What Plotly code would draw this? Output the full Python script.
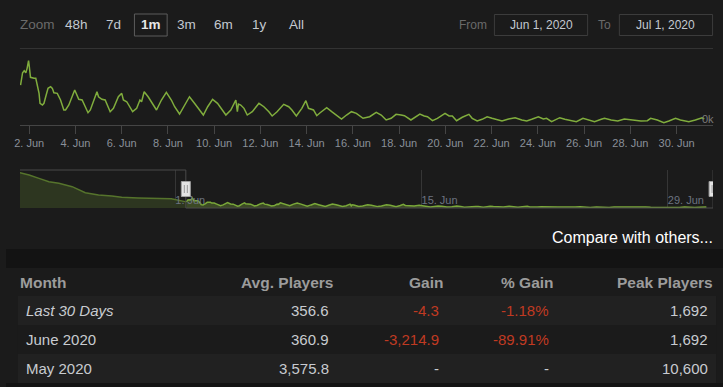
import pandas as pd
import plotly.graph_objects as go

W, H = 723, 387

# ---------------- data ----------------
# main series: hours since 2020-06-01 00:00 and player counts
main_hours = [15.1, 17.2, 18.9, 20.6, 21.9, 23.4, 24.0, 25.4, 29.1, 30.9,
              34.3, 35.3, 37.8, 39.4, 41.2, 43.6, 46.3, 48.1, 49.7, 53.2,
              56.6, 60.0, 61.8, 65.2, 71.3, 75.5, 79.0, 85.1, 87.5, 90.9,
              94.4, 96.0, 99.5, 102.9, 108.1, 111.5, 116.6, 120.1, 121.8, 125.3,
              131.4, 135.6, 139.0, 140.7, 143.4, 147.5, 151.0, 156.2, 161.3, 166.4,
              171.6, 175.0, 180.1, 185.3, 190.4, 195.6, 200.7, 204.8, 209.3, 214.4,
              219.5, 224.7, 228.2, 233.3, 238.5, 240.1, 241.2, 243.6, 247.0, 250.4,
              255.6, 262.5, 267.6, 272.8, 276.2, 281.3, 288.2, 293.4, 296.7, 301.3,
              307.0, 311.2, 313.9, 319.1, 322.5, 326.0, 332.8, 338.0, 343.1, 348.2,
              353.4, 358.5, 363.6, 370.5, 377.4, 384.2, 389.4, 394.5, 399.7, 404.8,
              410.0, 413.5, 420.2, 425.4, 429.5, 434.0, 437.4, 442.6, 447.7, 455.6,
              459.8, 463.2, 467.6, 473.5, 480.4, 483.8, 489.0, 494.1, 499.3, 504.4,
              509.6, 514.7, 521.6, 528.4, 535.3, 540.4, 545.6, 552.5, 557.6, 561.0,
              566.2, 574.7, 579.9, 586.8, 591.9, 598.8, 605.6, 610.8, 617.7, 621.1,
              628.0, 634.9, 641.7, 648.6, 658.9, 665.6, 669.0, 675.9, 682.7, 687.9,
              694.8, 699.9, 708.6, 715.4, 722.3, 724.6]
players = [1052, 1375, 1428, 1375, 1491, 1692, 1578, 1255, 1228, 1228,
           834, 571, 526, 571, 744, 965, 1007, 965, 849, 834,
           658, 395, 395, 526, 921, 676, 658, 323, 395, 658,
           876, 744, 676, 658, 350, 439, 744, 834, 658, 613,
           350, 439, 658, 613, 876, 744, 613, 395, 658, 860,
           658, 481, 289, 526, 744, 571, 395, 263, 481, 676,
           571, 395, 263, 395, 658, 350, 552, 526, 439, 263,
           350, 571, 481, 350, 237, 350, 544, 481, 395, 237,
           439, 639, 439, 395, 245, 323, 455, 350, 263, 158,
           263, 350, 308, 176, 218, 334, 263, 132, 176, 281,
           263, 245, 132, 218, 289, 237, 218, 113, 176, 308,
           237, 237, 113, 203, 281, 176, 105, 150, 218, 176,
           150, 105, 158, 192, 132, 105, 150, 218, 158, 176,
           87, 192, 150, 105, 87, 176, 132, 87, 150, 176,
           132, 105, 158, 132, 105, 113, 176, 132, 60, 105,
           176, 132, 87, 132, 192, 158]

# navigator history before the selected month (grouped values)
nav_hist_hours = [-212, -199.4, -185.9, -172.4, -158.8, -140.7, -122.7,
                  -104.7, -86.6, -73.1, -50.6, -28, -5.4]
nav_hist_players = [6036, 5643, 5079, 4497, 4224, 3642, 2616,
                    2223, 2052, 1830, 1710, 1659, 1590]

y_tick_vals = [0]
y_tick_text = ["0k"]

zoom_label = "Zoom"
zoom_buttons = ["48h", "7d", "1m", "3m", "6m", "1y", "All"]
active_button = "1m"
from_label, to_label = "From", "To"
date_from = "Jun 1, 2020"
date_to = "Jul 1, 2020"
compare_text = "Compare with others..."

table_header = ["Month", "Avg. Players", "Gain", "% Gain", "Peak Players"]
months = ["Last 30 Days", "June 2020", "May 2020"]
avg_players = ["356.6", "360.9", "3,575.8"]
gain = ["-4.3", "-3,214.9", "-"]
pct_gain = ["-1.18%", "-89.91%", "-"]
peak_players = ["1,692", "1,692", "10,600"]

# ---------------- helpers ----------------
base = pd.Timestamp("2020-06-01")
def ts(h):
    return base + pd.to_timedelta(h, unit="h")

t_main = [ts(h) for h in main_hours]
t_hist = [ts(h) for h in nav_hist_hours] + [t_main[0]]
v_hist = nav_hist_players + [players[0]]

main_range = [ts(14.4), ts(733.8)]
nav_range = [ts(-212), ts(733.8)]

def fx(px):
    return px / W
def fy(py):
    return 1 - py / H

FONT = "Liberation Sans, Arial, sans-serif"
BG = "#1b1b1b"
GREEN = "#80ad3d"

fig = go.Figure()

# main line
fig.add_trace(go.Scatter(x=t_main, y=players, mode="lines",
                         line=dict(color=GREEN, width=1.5),
                         xaxis="x", yaxis="y", hoverinfo="skip", showlegend=False))
# navigator: history (outside selection, darker)
fig.add_trace(go.Scatter(x=t_hist, y=v_hist, mode="lines", fill="tozeroy",
                         line=dict(color="#56742c", width=1.4),
                         fillcolor="#2d3620",
                         xaxis="x2", yaxis="y2", hoverinfo="skip", showlegend=False))
# navigator: selected month
fig.add_trace(go.Scatter(x=t_main, y=players, mode="lines", fill="tozeroy",
                         line=dict(color="#7aa83a", width=1.5),
                         fillcolor="#3c4a25",
                         xaxis="x2", yaxis="y2", hoverinfo="skip", showlegend=False))

# ---------------- shapes ----------------
shapes = []
# textured separator bands
shapes.append(dict(type="rect", xref="paper", yref="paper", x0=0, x1=1,
                   y0=fy(268), y1=fy(249), fillcolor="#131313", line=dict(width=0), layer="below"))
shapes.append(dict(type="rect", xref="paper", yref="paper", x0=0, x1=1,
                   y0=0, y1=fy(383), fillcolor="#131313", line=dict(width=0), layer="below"))
# top separator
shapes.append(dict(type="line", xref="paper", yref="paper", x0=fx(14), x1=fx(713),
                   y0=fy(48.5), y1=fy(48.5), line=dict(color="#333333", width=1)))
# active zoom button box
shapes.append(dict(type="rect", xref="paper", yref="paper", x0=fx(129.5), x1=fx(162.5),
                   y0=fy(36), y1=fy(14), line=dict(color="#5c5c5c", width=1)))
# date input boxes
for a, b in [(492.5, 586.5), (618.5, 712.5)]:
    shapes.append(dict(type="rect", xref="paper", yref="paper", x0=fx(a), x1=fx(b),
                       y0=fy(35.5), y1=fy(14.5), line=dict(color="#3c3c3c", width=1)))

# navigator outline
sel0, sel1 = main_range
OUT = "#4a4a4a"
shapes.append(dict(type="line", xref="x2", yref="y2 domain", x0=nav_range[0], x1=sel0,
                   y0=1, y1=1, line=dict(color=OUT, width=1)))
shapes.append(dict(type="line", xref="x2", yref="y2 domain", x0=sel0, x1=sel0,
                   y0=1, y1=0, line=dict(color=OUT, width=1)))
shapes.append(dict(type="line", xref="x2", yref="y2 domain", x0=sel0, x1=sel1,
                   y0=0, y1=0, line=dict(color=OUT, width=1)))
shapes.append(dict(type="line", xref="x2", yref="y2 domain", x0=sel1, x1=sel1,
                   y0=0, y1=1, line=dict(color=OUT, width=1)))
# navigator handles
for anchor, x0, x1, inner in [(sel0, -4.5, 4.5, [-1.5, 1.5]), (sel1, -4, 1.5, [-1])]:
    shapes.append(dict(type="rect", xref="x2", yref="y2 domain", xsizemode="pixel",
                       ysizemode="pixel", xanchor=anchor, yanchor=0.5,
                       x0=x0, x1=x1, y0=-7.5, y1=7.5,
                       fillcolor="#e4e4e4", line=dict(color="#a0a0a0", width=1)))
    for dx in inner:
        shapes.append(dict(type="line", xref="x2", yref="y2 domain", xsizemode="pixel",
                           ysizemode="pixel", xanchor=anchor, yanchor=0.5,
                           x0=dx, x1=dx, y0=-4, y1=4,
                           line=dict(color="#999999", width=1)))

# table row backgrounds
row_tops = [296, 325, 354]
row_h = 29
row_fills = ["#212121", "#1b1b1b", "#212121"]
for top, fc in zip(row_tops, row_fills):
    shapes.append(dict(type="rect", xref="paper", yref="paper", x0=fx(12), x1=fx(716),
                       y0=fy(top + row_h), y1=fy(top), fillcolor=fc,
                       line=dict(width=0), layer="below"))

# ---------------- annotations ----------------
ann = []
def text(x, y, s, size, color, xanchor="center", bold=False, italic=False):
    if bold:
        s = "<b>%s</b>" % s
    if italic:
        s = "<i>%s</i>" % s
    ann.append(dict(xref="paper", yref="paper", x=fx(x), y=fy(y), text=s,
                    showarrow=False, xanchor=xanchor, yanchor="middle",
                    borderpad=0, borderwidth=0,
                    font=dict(family=FONT, size=size, color=color)))

text(14, 25, zoom_label, 13.5, "#6a6a6a", xanchor="left")
btn_x = [71, 108, 146, 182, 219, 256, 292.5]
for lbl, bx in zip(zoom_buttons, btn_x):
    if lbl == active_button:
        text(bx, 25, lbl, 13.5, "#e6e6e6", bold=True)
    else:
        text(bx, 25, lbl, 13.5, "#c3c9d0")
text(485, 25, from_label, 12, "#6a6a6a", xanchor="right")
text(539.5, 25, date_from, 12, "#c3c9d0")
text(610.5, 25, to_label, 12, "#6a6a6a", xanchor="right")
text(665.5, 25, date_to, 12, "#c3c9d0")
text(713, 237, compare_text, 16, "#ffffff", xanchor="right")

for v, t in zip(y_tick_vals, y_tick_text):
    ann.append(dict(xref="paper", yref="y", x=fx(714), y=v, text=t, showarrow=False,
                    xanchor="right", yanchor="bottom", borderpad=0, borderwidth=0,
                    font=dict(family=FONT, size=11, color="#7a7a7a")))

# table text
TXT = "#c8cbd0"
RED = "#c03a22"
HDR = "#9c9c9c"
header_x = [14, 330, 441, 553, 713]
cell_x = [20, 326, 437, 548, 708]
aligns = ["left", "right", "right", "right", "right"]
for h, x, a in zip(table_header, header_x, aligns):
    text(x, 282, h, 15.5, HDR, xanchor=a, bold=True)

columns = [months, avg_players, gain, pct_gain, peak_players]
red_cols = [False, False, True, True, False]
for ci, (col, x, a, red) in enumerate(zip(columns, cell_x, aligns, red_cols)):
    for ri, (val, top) in enumerate(zip(col, row_tops)):
        color = RED if (red and val.startswith("-") and len(val) > 1) else TXT
        text(x, top + row_h / 2, val, 15, color, xanchor=a, italic=(ci == 0 and ri == 0))

fig.update_layout(
    width=W, height=H, autosize=False,
    margin=dict(l=0, r=0, t=0, b=0),
    paper_bgcolor=BG, plot_bgcolor=BG,
    showlegend=False,
    font=dict(family=FONT),
    xaxis=dict(domain=[fx(14), fx(713)], range=main_range, type="date",
               anchor="y", showgrid=False, zeroline=False,
               showline=True, linecolor="#454545", linewidth=1,
               ticks="outside", ticklen=8, tickcolor="#454545",
               tick0="2020-06-02", dtick=2 * 86400000, tickformat="%-d. %b",
               tickfont=dict(family=FONT, size=11, color="#8a9099")),
    yaxis=dict(domain=[fy(125), fy(56.6)], range=[0, 1800], anchor="x",
               showgrid=False, zeroline=False, showticklabels=False, showline=False),
    xaxis2=dict(domain=[fx(14), fx(713)], range=nav_range, type="date",
                anchor="y2", showgrid=True, gridcolor="#363636", gridwidth=1,
                zeroline=False, showline=False, ticks="",
                tick0="2020-06-01", dtick=14 * 86400000, tickformat="%-d. %b",
                ticklabelposition="inside right", ticklabelstandoff=-4,
                tickfont=dict(family=FONT, size=11, color="#6c7380")),
    yaxis2=dict(domain=[fy(208), fy(170)], range=[0, 6500], anchor="x2",
                showgrid=False, zeroline=False, showticklabels=False, showline=False),
    shapes=shapes,
    annotations=ann,
)

fig.write_html("out.html", config={"displayModeBar": False},
               post_script="document.body.style.margin='0';")
